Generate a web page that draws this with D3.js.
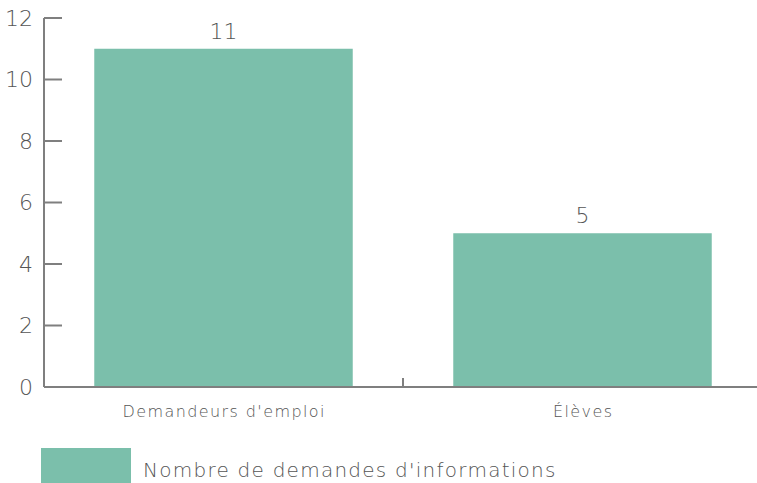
<!DOCTYPE html>
<html>
<head>
<meta charset="utf-8">
<script src="https://d3js.org/d3.v7.min.js"></script>
<style>
  body { margin: 0; background: #fff; }
  text { font-family: "DejaVu Sans", sans-serif; font-weight: 300; fill: #555; }
</style>
</head>
<body>
<svg width="757" height="483"></svg>
<script>
// data
var categories = ["Demandeurs d'emploi", "Élèves"];
var values = [11, 5];
var yTicks = [0, 2, 4, 6, 8, 10, 12];
var seriesName = "Nombre de demandes d'informations";

var barColor = "#7bbfab",
    axisColor = "#7f7f7f";

var svg = d3.select("svg"),
    mLeft = 44, mRight = 762, mTop = 18, mBottom = 387;

var x = d3.scaleBand()
    .domain(categories)
    .range([mLeft, mRight])
    .paddingInner(0.28)
    .paddingOuter(0.14);

var y = d3.scaleLinear()
    .domain([0, 12])
    .range([mBottom, mTop]);

// y axis
var gy = svg.append("g");
gy.append("line")
    .attr("x1", mLeft).attr("x2", mLeft)
    .attr("y1", y(12)).attr("y2", y(0))
    .attr("stroke", axisColor).attr("stroke-width", 2);
gy.selectAll(".tick")
    .data(yTicks)
    .enter().append("line")
    .attr("x1", mLeft).attr("x2", mLeft + 18)
    .attr("y1", function(d) { return y(d); })
    .attr("y2", function(d) { return y(d); })
    .attr("stroke", axisColor).attr("stroke-width", 2);
gy.selectAll(".lbl")
    .data(yTicks)
    .enter().append("text")
    .attr("x", 33)
    .attr("y", function(d) { return y(d); })
    .attr("dy", "0.36em")
    .attr("text-anchor", "end")
    .style("font-size", "22px")
    .text(function(d) { return d; });

// bars
svg.selectAll(".bar")
    .data(values)
    .enter().append("rect")
    .attr("x", function(d, i) { return x(categories[i]); })
    .attr("width", x.bandwidth())
    .attr("y", function(d) { return y(d); })
    .attr("height", function(d) { return y(0) - y(d); })
    .attr("fill", barColor);

svg.selectAll(".val")
    .data(values)
    .enter().append("text")
    .attr("x", function(d, i) { return x(categories[i]) + x.bandwidth() / 2; })
    .attr("y", function(d) { return y(d) - 10; })
    .attr("text-anchor", "middle")
    .style("font-size", "22px")
    .text(function(d) { return d; });

// x axis
svg.append("line")
    .attr("x1", mLeft).attr("x2", 757)
    .attr("y1", y(0)).attr("y2", y(0))
    .attr("stroke", axisColor).attr("stroke-width", 2);
var step = x.step();
svg.selectAll(".xtick")
    .data(categories.slice(1))
    .enter().append("line")
    .attr("x1", function(d) { return x(d) - step * 0.14; })
    .attr("x2", function(d) { return x(d) - step * 0.14; })
    .attr("y1", y(0) - 9).attr("y2", y(0))
    .attr("stroke", axisColor).attr("stroke-width", 2);
svg.selectAll(".xlbl")
    .data(categories)
    .enter().append("text")
    .attr("x", function(d) { return x(d) + x.bandwidth() / 2 + 0.7; })
    .attr("y", 417)
    .attr("text-anchor", "middle")
    .style("font-size", "16px")
    .style("letter-spacing", "1.4px")
    .text(function(d) { return d; });

// legend
svg.append("rect")
    .attr("x", 41).attr("y", 448)
    .attr("width", 90).attr("height", 35)
    .attr("fill", barColor);
svg.append("text")
    .attr("x", 143).attr("y", 477)
    .style("font-size", "20px")
    .style("letter-spacing", "1.25px")
    .text(seriesName);
</script>
</body>
</html>
